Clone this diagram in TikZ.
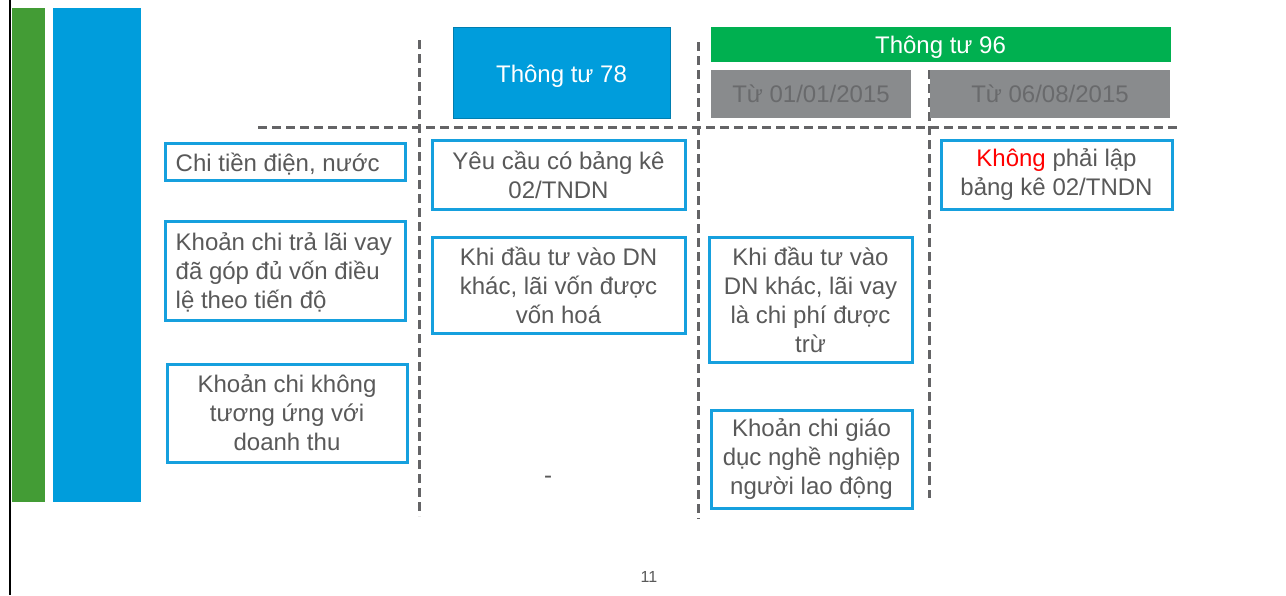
\documentclass[tikz,border=0pt]{standalone}
\usepackage{fontspec}
\setmainfont{Liberation Sans}
\definecolor{sidegreen}{RGB}{67,156,53}
\definecolor{sideblue}{RGB}{0,157,220}
\definecolor{hdgreen}{RGB}{0,176,80}
\definecolor{hdgray}{RGB}{137,139,141}
\definecolor{hdgraytext}{RGB}{105,106,108}
\definecolor{boxblue}{RGB}{22,160,222}
\definecolor{txtgray}{RGB}{89,89,89}
\definecolor{dashgray}{RGB}{100,100,102}
\definecolor{kred}{RGB}{255,0,0}
\tikzset{
  txt/.style={font=\fontsize{24}{29}\selectfont, text=txtgray},
  itembox/.style={txt, draw=boxblue, line width=3pt, inner sep=0pt, align=center},
  hdbox/.style={font=\fontsize{24}{29}\selectfont, inner sep=0pt, align=center,
    text height=20pt, text depth=3pt},
  sep/.style={draw=dashgray, line width=3pt, dash pattern=on 9pt off 5pt},
}
\begin{document}
\begin{tikzpicture}[x=1pt,y=-1pt]
\useasboundingbox[fill=white] (0,0) rectangle (1286,595);
% left border line and side bars
\draw[black, line width=2pt] (10,0) -- (10,595);
\fill[sidegreen] (12,8) rectangle (45,502);
\fill[sideblue] (53,8) rectangle (141,502);
% separators
\draw[sep] (258,127) -- (1180,127);
\draw[sep] (419,40) -- (419,516);
\draw[sep] (698,42) -- (698,519);
\draw[sep] (929,70) -- (929,498);
% headers
\node[hdbox, fill=sideblue, draw=sideblue!80!black, line width=0.6pt, text=white,
  text height=21pt, text depth=1pt,
  minimum width=217pt, minimum height=91pt] (tt78) at (561.5,72.5) {Thông tư 78};
\node[hdbox, fill=hdgreen, text=white,
  minimum width=460pt, minimum height=35pt] (tt96) at (940.5,44.5) {Thông tư 96};
\node[hdbox, fill=hdgray, text=hdgraytext,
  minimum width=200pt, minimum height=48pt] (d1) at (811,94) {Từ 01/01/2015};
\node[hdbox, fill=hdgray, text=hdgraytext,
  minimum width=240pt, minimum height=48pt] (d2) at (1050,94) {Từ 06/08/2015};
% left column
\node[itembox, minimum width=240pt, minimum height=37pt] (a1) at (285,161.5) {};
\node[txt, inner sep=0pt, anchor=west, text height=21pt, text depth=2pt]
  (a1t) at ([xshift=12pt]a1.west) {Chi tiền điện, nước};
\node[itembox, minimum width=240pt, minimum height=99pt] (a2) at (285,270.5) {};
\node[txt, inner sep=0pt, anchor=west, align=left]
  (a2t) at ([xshift=12pt,yshift=-1.5pt]a2.west) {Khoản chi trả lãi vay\\đã góp đủ vốn điều\\lệ theo tiến độ};
\node[itembox, minimum width=240pt, minimum height=98pt] (a3) at (287,413) {Khoản chi không\\tương ứng với\\doanh thu};
% TT78 column
\node[itembox, minimum width=253pt, minimum height=69pt] (b1) at (558.5,174.5) {Yêu cầu có bảng kê\\02/TNDN};
\node[itembox, minimum width=253pt, minimum height=96pt] (b2) at (558.5,285) {Khi đầu tư vào DN\\khác, lãi vốn được\\vốn hoá};
\node[txt] (b3) at (548,480) {-};
% TT96 column 1
\node[itembox, minimum width=203pt, minimum height=125pt] (c1) at (810.5,299.5) {Khi đầu tư vào\\DN khác, lãi vay\\là chi phí được\\trừ};
\node[itembox, minimum width=201pt, minimum height=98pt] (c2) at (811.5,459) {Khoản chi giáo\\dục nghề nghiệp\\người lao động};
% TT96 column 2
\node[itembox, minimum width=231pt, minimum height=69pt] (e1) at (1056.5,174.5) {\textcolor{kred}{Không} phải lập\\bảng kê 02/TNDN};
% page number
\node[font=\fontsize{16}{18}\selectfont, text=txtgray] (pg) at (649,577) {11};
\end{tikzpicture}
\end{document}
